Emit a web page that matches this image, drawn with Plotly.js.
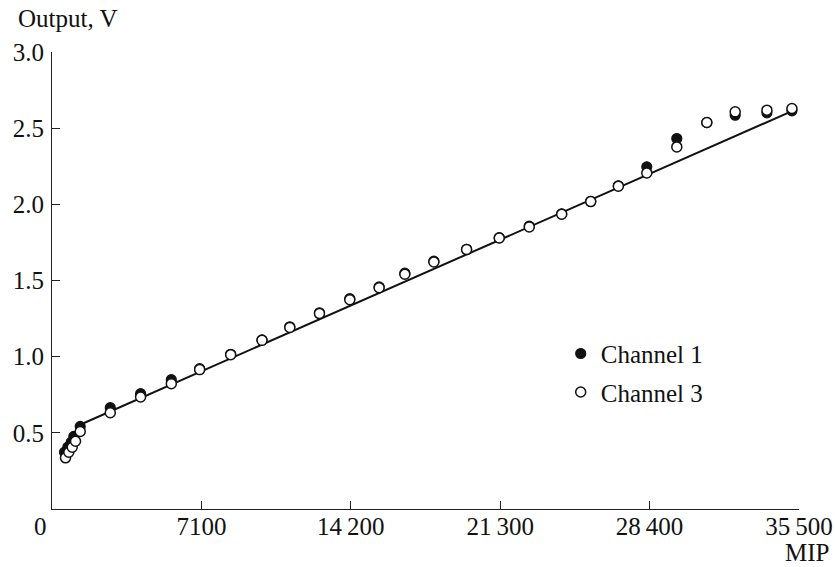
<!DOCTYPE html>
<html>
<head>
<meta charset="utf-8">
<script src="https://cdn.plot.ly/plotly-3.0.1.min.js"></script>
<style>html,body{margin:0;padding:0;background:#fff;}#chart{width:835px;height:567px;}</style>
</head>
<body>
<div id="chart"></div>
<script>
// Channel 1 (filled circles)
const ch1X = [595, 752, 913, 1037, 1341, 2769, 4210, 5670, 7017, 8491, 9980, 11301, 12711, 14152, 15546, 16768, 18148, 19703, 21254, 22681, 24223, 25602, 26915, 28266, 29693, 31120, 32467, 33975, 35164];
const ch1Y = [0.373, 0.406, 0.439, 0.477, 0.542, 0.665, 0.757, 0.849, 0.921, 1.016, 1.110, 1.196, 1.288, 1.381, 1.458, 1.548, 1.627, 1.705, 1.781, 1.857, 1.938, 2.020, 2.122, 2.246, 2.432, 2.537, 2.585, 2.601, 2.614];
// Channel 3 (open circles)
const ch3X = [642, 799, 961, 1118, 1341, 2769, 4210, 5670, 7017, 8491, 9980, 11301, 12711, 14152, 15546, 16768, 18148, 19703, 21254, 22681, 24223, 25602, 26915, 28266, 29693, 31120, 32467, 33975, 35164];
const ch3Y = [0.336, 0.373, 0.406, 0.445, 0.509, 0.632, 0.735, 0.823, 0.915, 1.013, 1.107, 1.192, 1.283, 1.374, 1.453, 1.541, 1.622, 1.703, 1.779, 1.852, 1.935, 2.018, 2.119, 2.206, 2.377, 2.537, 2.607, 2.618, 2.629];
// Linear fit line end points
const fitX = [1280, 35300];
const fitY = [0.55, 2.62];
// Axis ticks
const xTickVals = [7100, 14200, 21300, 28400, 35500];
const xTickText = ["7100", "14\u2009200", "21\u2009300", "28\u2009400", "35\u2009500"];
const yTickVals = [0.5, 1.0, 1.5, 2.0, 2.5, 3.0];
const yTickText = ["0.5", "1.0", "1.5", "2.0", "2.5", "3.0"];

const FONT = "Liberation Serif";
const FS = 25;

const traces = [
  {x: fitX, y: fitY, mode: 'lines', line: {color: '#111', width: 2}, showlegend: false, hoverinfo: 'skip'},
  {x: ch1X, y: ch1Y, mode: 'markers', name: 'Channel 1', legendgroup: 'a',
   marker: {symbol: 'circle', size: 10, color: '#111', line: {color: '#111', width: 1.2}}},
  {x: ch3X, y: ch3Y, mode: 'markers', name: 'Channel 3', legendgroup: 'b',
   marker: {symbol: 'circle', size: 10, color: '#fff', line: {color: '#111', width: 1.5}}}
];

const layout = {
  width: 835, height: 567,
  margin: {l: 52, r: 36, t: 52, b: 58, pad: 0},
  paper_bgcolor: '#fff', plot_bgcolor: '#fff',
  font: {family: FONT, size: FS, color: '#111'},
  showlegend: true,
  legend: {x: 0.681, xanchor: 'left', y: 0.39, yanchor: 'top', bgcolor: 'rgba(0,0,0,0)',
           traceorder: 'grouped', tracegroupgap: 3,
           font: {family: FONT, size: FS, color: '#111'}},
  xaxis: {range: [0, 35500], tickmode: 'array', tickvals: xTickVals, ticktext: xTickText,
          showline: true, linecolor: '#222', linewidth: 1, mirror: false,
          ticks: 'inside', ticklen: 8, tickcolor: '#222', tickwidth: 1,
          ticklabelstandoff: -5,
          showgrid: false, zeroline: false, fixedrange: true,
          tickfont: {family: FONT, size: FS, color: '#111'}},
  yaxis: {range: [0, 3.0], tickmode: 'array', tickvals: yTickVals, ticktext: yTickText,
          showline: true, linecolor: '#222', linewidth: 1, mirror: false,
          ticks: 'inside', ticklen: 8, tickcolor: '#222', tickwidth: 1,
          ticklabelstandoff: 2,
          showgrid: false, zeroline: false, fixedrange: true,
          tickfont: {family: FONT, size: FS, color: '#111'}},
  annotations: [
    {text: 'Output, V', xref: 'paper', yref: 'paper', x: 0, y: 1, xanchor: 'left', yanchor: 'middle',
     xshift: -36, yshift: 34, showarrow: false, font: {family: FONT, size: FS, color: '#111'}},
    {text: 'MIP', xref: 'paper', yref: 'paper', x: 1, y: 0, xanchor: 'right', yanchor: 'middle',
     xshift: 32, yshift: -43, showarrow: false, font: {family: FONT, size: FS, color: '#111'}},
    {text: '0', xref: 'x', yref: 'paper', x: 0, y: 0, xanchor: 'center', yanchor: 'middle',
     xshift: -12, yshift: -17, showarrow: false, font: {family: FONT, size: FS, color: '#111'}}
  ]
};

Plotly.newPlot('chart', traces, layout, {displayModeBar: false, staticPlot: true});
</script>
</body>
</html>
